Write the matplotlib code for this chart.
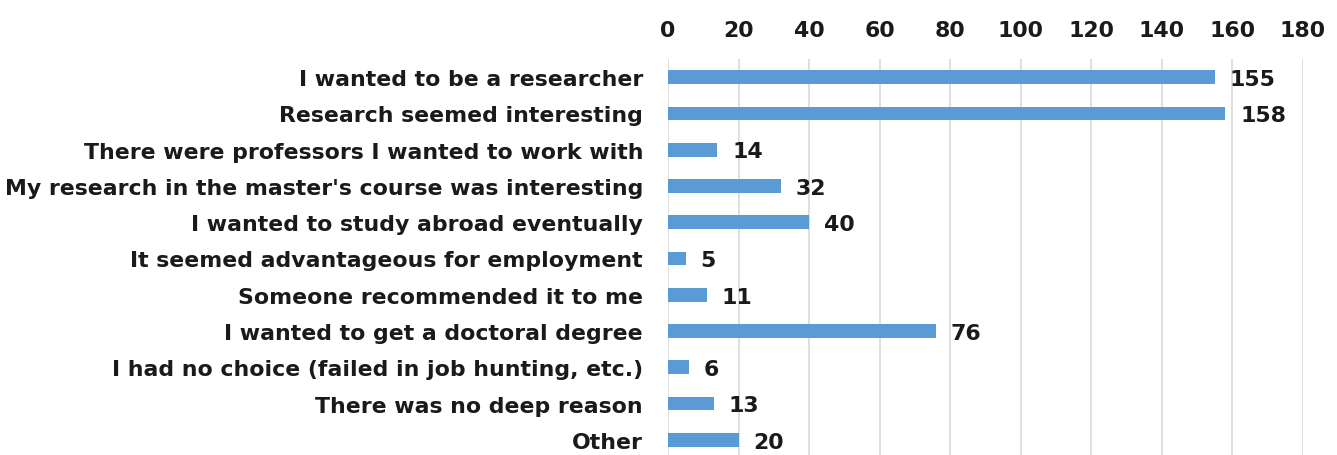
import matplotlib
matplotlib.use('Agg')
import matplotlib.pyplot as plt

reasons = [
    "I wanted to be a researcher",
    "Research seemed interesting",
    "There were professors I wanted to work with",
    "My research in the master's course was interesting",
    "I wanted to study abroad eventually",
    "It seemed advantageous for employment",
    "Someone recommended it to me",
    "I wanted to get a doctoral degree",
    "I had no choice (failed in job hunting, etc.)",
    "There was no deep reason",
    "Other",
]
counts = [155, 158, 14, 32, 40, 5, 11, 76, 6, 13, 20]
xticks = [0, 20, 40, 60, 80, 100, 120, 140, 160, 180]

plt.rcParams['font.family'] = 'DejaVu Sans'
plt.rcParams['font.weight'] = 'bold'
fs = 15.8

fig = plt.figure(figsize=(13.37, 4.56), dpi=100)
# axes placed in pixels: left 668, right 1303, top 60, bottom 459
ax = fig.add_axes([668/1337, -3/456, (1303-668)/1337, (459-60)/456])

ypos = list(range(len(reasons)))
ax.barh(ypos, counts, height=0.38, color='#5B9BD5', zorder=3)
for y, v in zip(ypos, counts):
    ax.text(v + 4.2, y + 0.05, str(v), va='center', ha='left', fontsize=fs, fontweight='bold', color='#1a1a1a')

ax.set_ylim(len(reasons) - 0.5, -0.5)
ax.set_xlim(0, 180)
ax.set_yticks(ypos)
ax.set_yticklabels(reasons, fontsize=fs, fontweight='bold', color='#1a1a1a')
ax.set_xticks(xticks)
ax.set_xticklabels([str(t) for t in xticks], fontsize=fs, fontweight='bold', color='#1a1a1a')
ax.xaxis.tick_top()
ax.tick_params(axis='both', length=0)
ax.tick_params(axis='y', pad=18)
ax.tick_params(axis='x', pad=14)
ax.grid(axis='x', color='#d9d9d9', linewidth=1.2, zorder=0)
for s in ax.spines.values():
    s.set_visible(False)

fig.savefig('out.png', dpi=100)
